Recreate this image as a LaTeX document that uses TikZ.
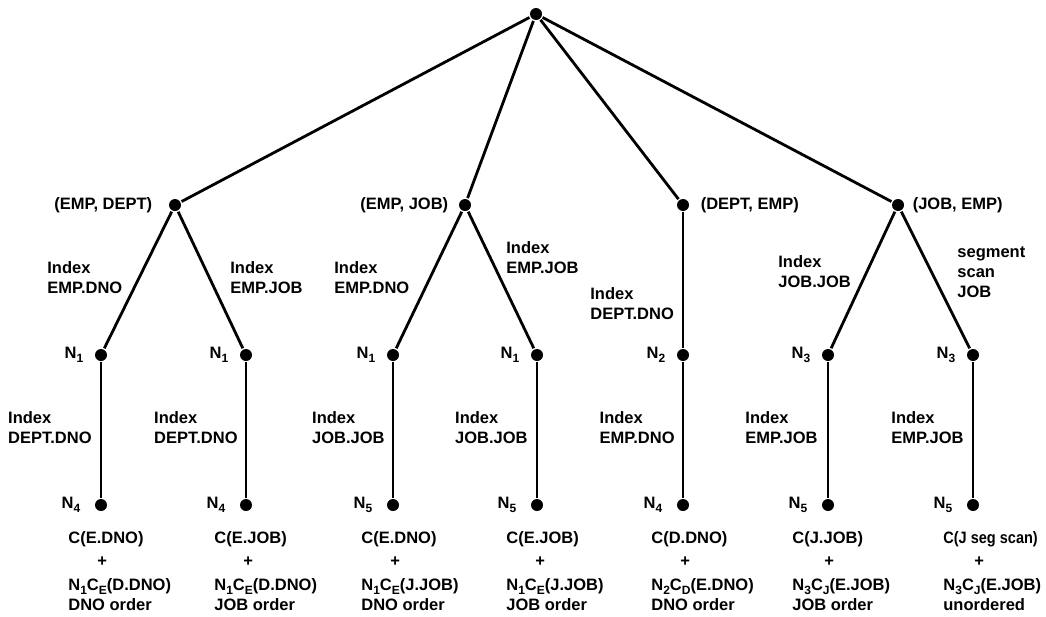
\documentclass[tikz,border=0pt]{standalone}
\usepackage{fontspec}
\setmainfont{Liberation Sans}
\newcommand{\lowidx}[1]{\raisebox{-0.45ex}{\fontsize{12}{12}\selectfont #1}}
\begin{document}
\begin{tikzpicture}[x=1pt,y=-1pt,line width=2.8pt,
    dot/.style={circle,fill,inner sep=0pt,minimum size=12pt},
    lbl/.style={inner sep=1pt,font=\bfseries\fontsize{16.5}{20}\selectfont},
    elbl/.style={lbl,align=left,inner sep=0pt},
    cost/.style={elbl,anchor=north west,font=\bfseries\fontsize{16.5}{23.5}\selectfont}]
    \useasboundingbox (0,0) rectangle (1046,616);
    \node[dot] (root) at (536,14) {};
    \node[dot,label={[lbl,label distance=13pt]left:{(EMP, DEPT)}}] (ed) at (175,205) {};
    \node[dot,label={[lbl,label distance=7pt]left:{(EMP, JOB)}}] (ej) at (465,205) {};
    \node[dot,label={[lbl,label distance=8pt]right:{(DEPT, EMP)}}] (de) at (683,205) {};
    \node[dot,label={[lbl,label distance=5pt]right:{(JOB, EMP)}}] (je) at (898,205) {};
    \draw (root) -- (ed); \draw (root) -- (ej); \draw (root) -- (de); \draw (root) -- (je);
    \node[dot,label={[lbl,label distance=8pt]left:N\lowidx{1}}] (ed1) at (101,355) {};
    \node[dot,label={[lbl,label distance=8pt]left:N\lowidx{1}}] (ed2) at (246,355) {};
    \node[dot,label={[lbl,label distance=8pt]left:N\lowidx{1}}] (ej1) at (393,355) {};
    \node[dot,label={[lbl,label distance=8pt]left:N\lowidx{1}}] (ej2) at (537,355) {};
    \node[dot,label={[lbl,label distance=8pt]left:N\lowidx{2}}] (de1) at (683,355) {};
    \node[dot,label={[lbl,label distance=8pt]left:N\lowidx{3}}] (je1) at (828,355) {};
    \node[dot,label={[lbl,label distance=8pt]left:N\lowidx{3}}] (je2) at (973,355) {};
    \draw (ed) -- (ed1); \draw (ed) -- (ed2); \draw (ej) -- (ej1); \draw (ej) -- (ej2);
    \draw (de) -- (de1); \draw (je) -- (je1); \draw (je) -- (je2);
    \node[elbl,anchor=west] (led1) at (46,278) {Index\\EMP.DNO};
    \node[elbl,anchor=west] (led2) at (229,278) {Index\\EMP.JOB};
    \node[elbl,anchor=west] (lej1) at (333,278) {Index\\EMP.DNO};
    \node[elbl,anchor=west] (lej2) at (505,258) {Index\\EMP.JOB};
    \node[elbl,anchor=west] (lde1) at (589,304) {Index\\DEPT.DNO};
    \node[elbl,anchor=west] (lje1) at (777,272) {Index\\JOB.JOB};
    \node[elbl,anchor=west] (lje2) at (956,272) {segment\\scan\\JOB};
    \node[dot,label={[lbl,label distance=11pt]left:N\lowidx{4}}] (ed1b) at (101,505) {};
    \node[dot,label={[lbl,label distance=11pt]left:N\lowidx{4}}] (ed2b) at (246,505) {};
    \node[dot,label={[lbl,label distance=11pt]left:N\lowidx{5}}] (ej1b) at (393,505) {};
    \node[dot,label={[lbl,label distance=11pt]left:N\lowidx{5}}] (ej2b) at (537,505) {};
    \node[dot,label={[lbl,label distance=11pt]left:N\lowidx{4}}] (de1b) at (683,505) {};
    \node[dot,label={[lbl,label distance=11pt]left:N\lowidx{5}}] (je1b) at (828,505) {};
    \node[dot,label={[lbl,label distance=11pt]left:N\lowidx{5}}] (je2b) at (973,505) {};
    \foreach \n in {ed1,ed2,ej1,ej2,de1,je1,je2}
        \draw (\n) -- (\n b);
    \node[elbl,anchor=east] (led1b) at (93,428) {Index\\DEPT.DNO};
    \node[elbl,anchor=east] (led2b) at (239,428) {Index\\DEPT.DNO};
    \node[elbl,anchor=east] (lej1b) at (386,428) {Index\\JOB.JOB};
    \node[elbl,anchor=east] (lej2b) at (529,428) {Index\\JOB.JOB};
    \node[elbl,anchor=east] (lde1b) at (676,428) {Index\\EMP.DNO};
    \node[elbl,anchor=east] (lje1b) at (819,428) {Index\\EMP.JOB};
    \node[elbl,anchor=east] (lje2b) at (965,428) {Index\\EMP.JOB};
    \node[cost] (ced1) at (67,530) {C(E.DNO)\\\hspace*{29pt}+\\N\lowidx{1}C\lowidx{E}(D.DNO)\\[-3pt]DNO order};
    \node[cost] (ced2) at (213,530) {C(E.JOB)\\\hspace*{29pt}+\\N\lowidx{1}C\lowidx{E}(D.DNO)\\[-3pt]JOB order};
    \node[cost] (cej1) at (360,530) {C(E.DNO)\\\hspace*{29pt}+\\N\lowidx{1}C\lowidx{E}(J.JOB)\\[-3pt]DNO order};
    \node[cost] (cej2) at (505,530) {C(E.JOB)\\\hspace*{29pt}+\\N\lowidx{1}C\lowidx{E}(J.JOB)\\[-3pt]JOB order};
    \node[cost] (cde1) at (650,530) {C(D.DNO)\\\hspace*{29pt}+\\N\lowidx{2}C\lowidx{D}(E.DNO)\\[-3pt]DNO order};
    \node[cost] (cje1) at (791,530) {C(J.JOB)\\\hspace*{32pt}+\\N\lowidx{3}C\lowidx{J}(E.JOB)\\[-3pt]JOB order};
    \node[cost] (cje2) at (942,530) {\scalebox{0.88}[1]{C(J seg scan)}\\\hspace*{31pt}+\\N\lowidx{3}C\lowidx{J}(E.JOB)\\[-3pt]unordered};
\end{tikzpicture}
\end{document}
